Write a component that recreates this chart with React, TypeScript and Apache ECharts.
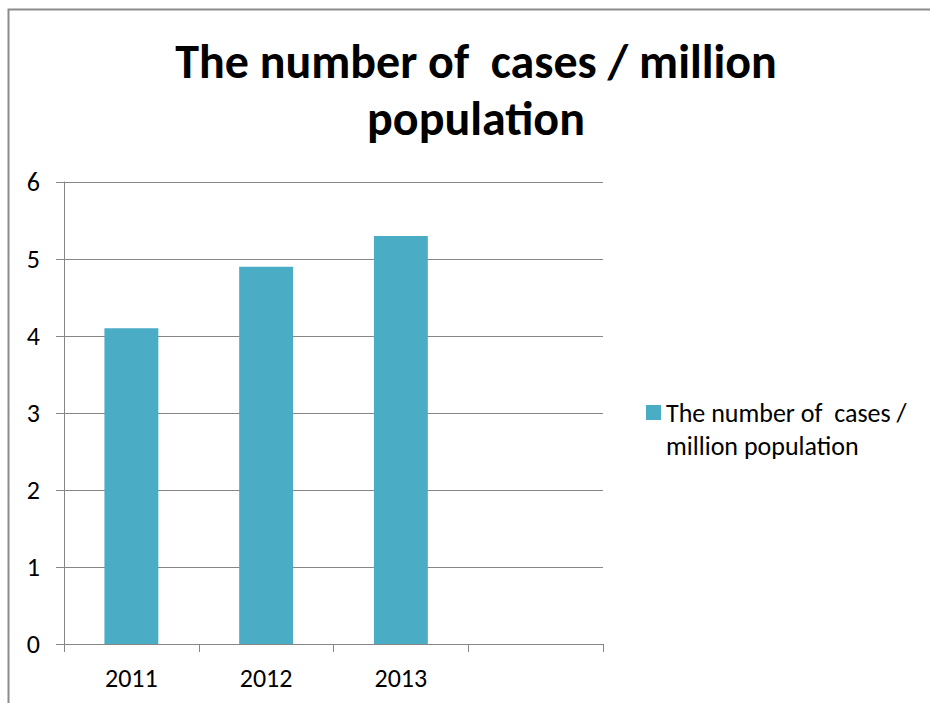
import React, { useEffect, useRef } from "react";
import * as echarts from "echarts";

const categories = ["2011", "2012", "2013", ""];
const casesPerMillion = [4.1, 4.9, 5.3, null];
const yTicks = { min: 0, max: 6, interval: 1 };
const seriesName = "The number of  cases / million population";
const titleText = "The number of  cases / million\npopulation";

const FONT = "Carlito, 'Open Sans', sans-serif";

export default function App() {
  const ref = useRef<HTMLDivElement>(null);
  useEffect(() => {
    if (!ref.current) return;
    const chart = echarts.init(ref.current, null, { renderer: "svg" });
    chart.setOption({
      animation: false,
      backgroundColor: "#ffffff",
      title: {
        text: titleText,
        left: 471,
        textAlign: "center",
        top: 28,
        textStyle: {
          fontFamily: FONT,
          fontWeight: "bold",
          fontSize: 48,
          lineHeight: 57,
          color: "#000",
        },
      },
      graphic: [
        {
          type: "polyline",
          shape: { points: [[8.5, 710], [8.5, 9.5], [940, 9.5]] },
          style: { stroke: "#8c8c8c", lineWidth: 2, fill: "none" },
          silent: true,
        },
      ],
      legend: {
        left: 641,
        top: 358,
        orient: "vertical",
        icon: "rect",
        itemWidth: 15,
        itemHeight: 15,
        itemGap: 6,
        formatter: () => "\nThe number of  cases /\nmillion population",
        textStyle: {
          fontFamily: FONT,
          fontSize: 26,
          lineHeight: 33,
          color: "#000",
        },
      },
      grid: { left: 64, right: 327, top: 182, bottom: 59, containLabel: false },
      xAxis: {
        type: "category",
        data: categories,
        boundaryGap: true,
        axisLine: { show: true, lineStyle: { color: "#868686", width: 1 } },
        axisTick: { show: true, length: 8, alignWithLabel: false, lineStyle: { color: "#868686" } },
        axisLabel: { fontFamily: FONT, fontSize: 26, color: "#000", margin: 21 },
        splitLine: { show: false },
      },
      yAxis: {
        type: "value",
        min: yTicks.min,
        max: yTicks.max,
        interval: yTicks.interval,
        axisLine: { show: true, lineStyle: { color: "#868686", width: 1 } },
        axisTick: { show: true, length: 8, lineStyle: { color: "#868686" } },
        axisLabel: { fontFamily: FONT, fontSize: 26, color: "#000", margin: 24 },
        splitLine: { show: true, lineStyle: { color: "#868686", width: 1 } },
      },
      series: [
        {
          name: seriesName,
          type: "bar",
          data: casesPerMillion,
          barWidth: "40%",
          itemStyle: { color: "#4BACC6" },
        },
      ],
    });
    return () => chart.dispose();
  }, []);
  return (
    <div
      ref={ref}
      style={{ position: "fixed", left: 0, top: 0, width: 930, height: 703 }}
    />
  );
}
